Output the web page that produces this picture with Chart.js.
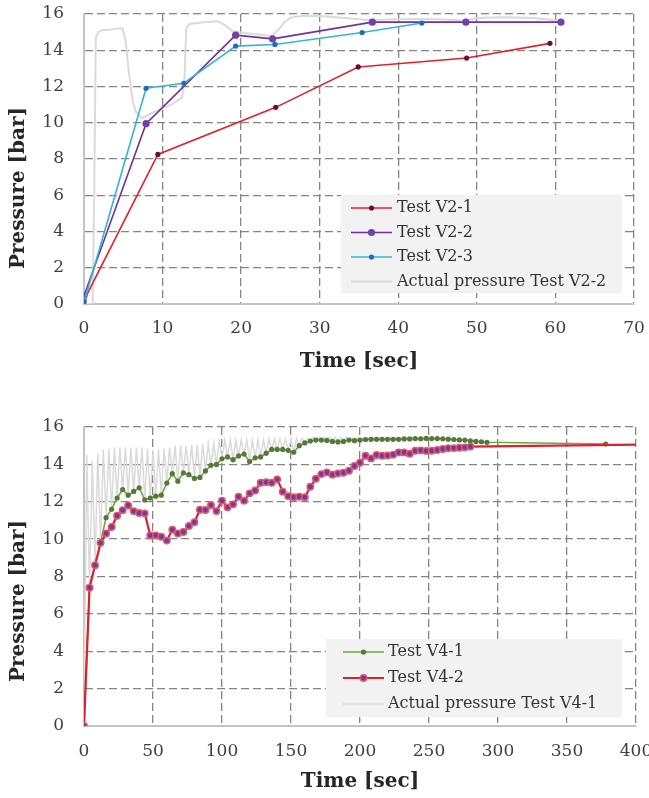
<!DOCTYPE html>
<html>
<head>
<meta charset="utf-8">
<script src="https://cdn.jsdelivr.net/npm/chart.js@4.4.1/dist/chart.umd.min.js"></script>
<style>
  body { margin: 0; background: #fff; }
  canvas { display: block; }
</style>
</head>
<body>
<canvas id="chartV2" width="649" height="400"></canvas>
<canvas id="chartV4" width="649" height="398"></canvas>
<script>
// ---- top chart: tests V2 (time in sec, pressure in bar)
const timeV21 = [0, 9.4, 24.4, 34.9, 48.7, 59.3];
const pressureV21 = [0.2, 8.25, 10.85, 13.08, 13.57, 14.38];

const timeV22 = [0, 7.9, 19.3, 24.0, 36.7, 48.6, 60.7];
const pressureV22 = [0.45, 9.95, 14.83, 14.63, 15.55, 15.55, 15.55];

const timeV23 = [0, 7.9, 12.7, 19.3, 24.3, 35.4, 43.0];
const pressureV23 = [0.1, 11.9, 12.18, 14.23, 14.32, 14.98, 15.5];

const actualTimeV22 = [0, 1.1, 1.3, 1.5, 1.8, 2.3, 3.5, 4.5, 4.9, 5.3, 5.7, 6.2, 6.6, 7.4, 8.9, 11.1, 12.5,
  12.8, 13.0, 13.4, 15.3, 17.0, 17.9, 18.9, 20.4, 22.5, 23.8, 24.9, 25.5, 26.3, 28.0, 30.5, 33.9,
  36.5, 39.0, 42.4, 45.8, 48.4, 50.1, 53.5, 57.3, 60.3];
const actualPressureV22 = [0, 0, 6, 14.7, 15.0, 15.1, 15.15, 15.22, 15.2, 14.5, 12.8, 11.2, 10.6, 10.25, 10.6, 11.0, 11.4,
  12.5, 15.2, 15.45, 15.55, 15.6, 15.4, 15.05, 14.95, 14.86, 14.77, 15.2, 15.55, 15.8, 15.9, 15.87, 15.75,
  15.65, 15.7, 15.73, 15.7, 15.64, 15.78, 15.82, 15.78, 15.64];

// ---- bottom chart: tests V4
const timeV41 = [0, 4, 8, 12, 16, 20, 24, 28, 32, 36, 40, 44, 48, 52, 56, 60, 64, 68, 72, 76, 80, 84, 88, 92, 96,
  100, 104, 108, 112, 116, 120, 124, 128, 132, 136, 140, 144, 148, 152, 156, 160, 164, 168, 172, 176, 180,
  184, 188, 192, 196, 200, 204, 208, 212, 216, 220, 224, 228, 232, 236, 240, 244, 248, 252, 256, 260, 264,
  268, 272, 276, 280, 284, 288, 292, 378];
const pressureV41 = [0, 7.4, 8.6, 9.8, 11.15, 11.6, 12.2, 12.65, 12.35, 12.55, 12.75, 12.1, 12.2, 12.3, 12.35, 13.0,
  13.5, 13.1, 13.55, 13.45, 13.25, 13.3, 13.65, 13.95, 14.0, 14.3, 14.4, 14.25, 14.45, 14.55, 14.15, 14.35,
  14.4, 14.6, 14.8, 14.8, 14.8, 14.75, 14.65, 15.0, 15.15, 15.25, 15.3, 15.3, 15.28, 15.23, 15.2, 15.23,
  15.3, 15.27, 15.3, 15.33, 15.34, 15.34, 15.34, 15.34, 15.34, 15.34, 15.36, 15.36, 15.38, 15.37, 15.39,
  15.38, 15.38, 15.37, 15.35, 15.33, 15.31, 15.3, 15.26, 15.23, 15.21, 15.18, 15.09];

const timeV42 = [0, 4, 8, 12, 16, 20, 24, 28, 32, 36, 40, 44, 48, 52, 56, 60, 64, 68, 72, 76, 80, 84, 88, 92, 96,
  100, 104, 108, 112, 116, 120, 124, 128, 132, 136, 140, 144, 148, 152, 156, 160, 164, 168, 172, 176, 180,
  184, 188, 192, 196, 200, 204, 208, 212, 216, 220, 224, 228, 232, 236, 240, 244, 248, 252, 256, 260, 264,
  268, 272, 276, 280, 410];
const pressureV42 = [0, 7.4, 8.6, 9.8, 10.3, 10.65, 11.25, 11.55, 11.8, 11.5, 11.4, 11.38, 10.2, 10.2, 10.13, 9.92,
  10.5, 10.3, 10.38, 10.7, 10.9, 11.57, 11.56, 11.82, 11.5, 12.06, 11.7, 11.86, 12.27, 12.06, 12.45, 12.6,
  13.02, 13.05, 13.02, 13.2, 12.54, 12.3, 12.24, 12.27, 12.24, 12.8, 13.23, 13.48, 13.57, 13.45, 13.52,
  13.55, 13.66, 13.91, 14.09, 14.46, 14.32, 14.5, 14.46, 14.48, 14.52, 14.64, 14.64, 14.57, 14.73, 14.75,
  14.72, 14.73, 14.77, 14.82, 14.86, 14.87, 14.89, 14.91, 14.95, 15.06];

// actual pressure V4-1 oscillates: the lows sit on the V4-1 samples, the highs are read here
const peakTimeV41 = [2, 6, 10, 14, 18, 22, 26, 30, 34, 38, 42, 46, 50, 54, 58, 62, 66, 70, 74, 78, 82, 86, 90, 94,
  98, 102, 106, 110, 114, 118, 122, 126, 130, 134, 138, 142, 146, 150, 154, 158, 162, 166, 170, 174, 178,
  182, 186, 190, 194, 198, 202, 206, 210, 214, 218, 222, 226, 230, 234, 238, 242, 246];
const peakPressureV41 = [14.5, 14.2, 14.6, 14.8, 14.85, 14.9, 14.9, 14.9, 14.9, 14.9, 14.9, 14.85, 14.75, 14.8, 14.85,
  14.9, 15.0, 15.0, 15.0, 15.05, 15.05, 15.1, 15.1, 15.1, 15.25, 15.3, 15.3, 15.3, 15.3, 15.3, 15.3, 15.3,
  15.3, 15.35, 15.35, 15.35, 15.35, 15.35, 15.4, 15.4, 15.4, 15.45, 15.45, 15.45, 15.45, 15.45, 15.45,
  15.45, 15.42, 15.42, 15.42, 15.42, 15.42, 15.42, 15.42, 15.42, 15.42, 15.42, 15.42, 15.42, 15.42, 15.42];

function toPoints(xs, ys) {
  return xs.map((x, i) => ({ x: x, y: ys[i] }));
}

const actualV41 = [];
timeV41.forEach((t, i) => { if (t <= 248) actualV41.push({ x: t, y: pressureV41[i] }); });
peakTimeV41.forEach((t, i) => actualV41.push({ x: t, y: peakPressureV41[i] }));
actualV41.sort((a, b) => a.x - b.x);

Chart.defaults.font.family = '"DejaVu Serif", serif';
Chart.defaults.color = '#404040';

// axis titles + boxed legend inside the plot, like the excel original
const extras = {
  id: 'extras',
  afterDraw(chart, args, opts) {
    const ctx = chart.ctx;
    const area = chart.chartArea;
    ctx.save();
    ctx.fillStyle = '#262626';
    ctx.font = 'bold 20px "DejaVu Serif"';
    ctx.textAlign = 'center';
    ctx.textBaseline = 'middle';
    ctx.fillText(opts.xTitle, (area.left + area.right) / 2, opts.xTitleY);
    ctx.translate(opts.yTitleX, opts.yTitleY);
    ctx.rotate(-Math.PI / 2);
    ctx.fillText(opts.yTitle, 0, 0);
    ctx.restore();

    const lg = opts.legend;
    ctx.save();
    ctx.fillStyle = '#f2f2f2';
    ctx.fillRect(lg.x, lg.y, lg.w, lg.h);
    ctx.font = '16px "DejaVu Serif"';
    ctx.textAlign = 'left';
    ctx.textBaseline = 'middle';
    chart.data.datasets.forEach((ds, i) => {
      const yy = lg.firstRow + i * lg.rowH;
      ctx.strokeStyle = ds.borderColor;
      ctx.lineWidth = ds.borderWidth;
      ctx.beginPath();
      ctx.moveTo(lg.sampleX, yy);
      ctx.lineTo(lg.sampleX + lg.sampleW, yy);
      ctx.stroke();
      if (ds.pointRadius > 0) {
        ctx.beginPath();
        ctx.arc(lg.sampleX + lg.sampleW / 2, yy, ds.pointRadius, 0, Math.PI * 2);
        ctx.fillStyle = ds.pointBackgroundColor;
        ctx.fill();
        if (ds.pointBorderWidth) {
          ctx.lineWidth = ds.pointBorderWidth;
          ctx.strokeStyle = ds.pointBorderColor;
          ctx.stroke();
        }
      }
      ctx.fillStyle = '#333333';
      ctx.fillText(ds.label, lg.textX, yy);
    });
    ctx.restore();
  }
};

function gridColor(c) {
  return c.tick && c.tick.value === 0 ? 'rgba(0,0,0,0)' : '#858585';
}

function makeScales(xMax, xStep, xAxisHeight, xPad) {
  return {
    x: {
      type: 'linear', min: 0, max: xMax,
      ticks: { stepSize: xStep, padding: xPad, font: { size: 17 } },
      grid: { color: gridColor, lineWidth: 1.3, drawTicks: false },
      border: { display: true, color: '#c4c4c4', width: 2, dash: [8, 4] },
      afterFit(s) { s.height = xAxisHeight; s.paddingLeft = 0; s.paddingRight = 0; }
    },
    y: {
      min: 0, max: 16,
      ticks: { stepSize: 2, padding: 20, font: { size: 17 } },
      grid: { color: gridColor, lineWidth: 1.3, drawTicks: false },
      border: { display: true, color: '#c4c4c4', width: 2, dash: [8, 4] },
      afterFit(s) { s.width = 84; s.paddingTop = 0; s.paddingBottom = 0; }
    }
  };
}

new Chart(document.getElementById('chartV2'), {
  type: 'line',
  data: {
    datasets: [
      {
        label: 'Test V2-1',
        data: toPoints(timeV21, pressureV21),
        borderColor: '#e5202b', borderWidth: 1.6,
        pointRadius: 2.6, pointBackgroundColor: '#6a0f2e', pointBorderColor: '#6a0f2e', pointBorderWidth: 0,
        tension: 0, order: 3
      },
      {
        label: 'Test V2-2',
        data: toPoints(timeV22, pressureV22),
        borderColor: '#7030a0', borderWidth: 1.6,
        pointRadius: 3.6, pointBackgroundColor: '#7440a8', pointBorderColor: '#7440a8', pointBorderWidth: 0,
        tension: 0, order: 2
      },
      {
        label: 'Test V2-3',
        data: toPoints(timeV23, pressureV23),
        borderColor: '#36b4d8', borderWidth: 1.6,
        pointRadius: 2.6, pointBackgroundColor: '#1a6cbf', pointBorderColor: '#1a6cbf', pointBorderWidth: 0,
        tension: 0, order: 1
      },
      {
        label: 'Actual pressure Test V2-2',
        data: toPoints(actualTimeV22, actualPressureV22),
        borderColor: '#dadada', borderWidth: 2,
        pointRadius: 0, tension: 0, order: 10
      }
    ]
  },
  options: {
    responsive: false,
    animation: false,
    layout: { padding: { top: 14, right: 15, left: 0, bottom: 0 } },
    scales: makeScales(70, 10, 96, 14),
    plugins: {
      legend: { display: false },
      tooltip: { enabled: false },
      extras: {
        xTitle: 'Time [sec]', xTitleY: 362,
        yTitle: 'Pressure [bar]', yTitleX: 19, yTitleY: 188,
        legend: { x: 341, y: 195, w: 281, h: 98, firstRow: 208, rowH: 24.5, sampleX: 351, sampleW: 41, textX: 397 }
      }
    }
  },
  plugins: [extras]
});

new Chart(document.getElementById('chartV4'), {
  type: 'line',
  data: {
    datasets: [
      {
        label: 'Test V4-1',
        data: toPoints(timeV41, pressureV41),
        borderColor: '#6ea843', borderWidth: 1.6,
        pointRadius: 2.6, pointBackgroundColor: '#557a38', pointBorderColor: '#557a38', pointBorderWidth: 0,
        tension: 0, order: 2
      },
      {
        label: 'Test V4-2',
        data: toPoints(timeV42, pressureV42),
        borderColor: '#e01f2d', borderWidth: 2.2,
        pointRadius: 3.2, pointBackgroundColor: '#6a3ea0', pointBorderColor: '#ec5565', pointBorderWidth: 1.5,
        tension: 0, order: 1
      },
      {
        label: 'Actual pressure Test V4-1',
        data: actualV41,
        borderColor: '#dadada', borderWidth: 1.5,
        pointRadius: 0, tension: 0, order: 3
      }
    ]
  },
  options: {
    responsive: false,
    animation: false,
    layout: { padding: { top: 27, right: 13, left: 0, bottom: 0 } },
    scales: makeScales(400, 50, 72, 15),
    plugins: {
      legend: { display: false },
      tooltip: { enabled: false },
      extras: {
        xTitle: 'Time [sec]', xTitleY: 382,
        yTitle: 'Pressure [bar]', yTitleX: 19, yTitleY: 201,
        legend: { x: 326, y: 239, w: 296, h: 78, firstRow: 252, rowH: 26, sampleX: 343, sampleW: 41, textX: 388 }
      }
    }
  },
  plugins: [extras]
});
</script>
</body>
</html>
